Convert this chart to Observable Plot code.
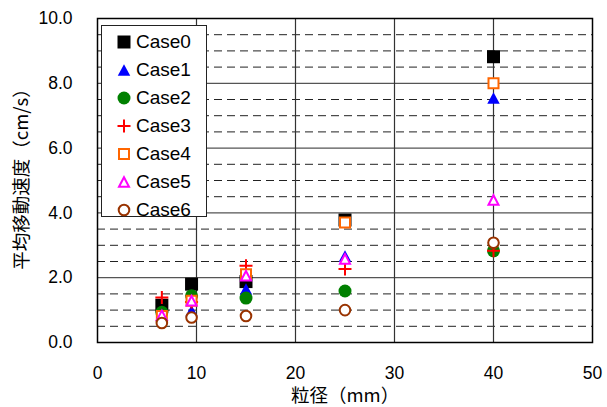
<!DOCTYPE html>
<html>
<head>
<meta charset="utf-8">
<script src="https://cdn.jsdelivr.net/npm/d3@7"></script>
<script src="https://cdn.jsdelivr.net/npm/@observablehq/plot@0.6"></script>
<style>
  body { margin: 0; background: #fff; }
  #wrap { position: relative; width: 607px; height: 407px; }
  #legend { position: absolute; left: 101px; top: 25px; width: 106px; height: 192px; box-sizing: border-box;
            border: 1px solid #222; background: #fff; font-family: 'Liberation Sans', Arial, sans-serif; font-size: 19px; color: #000; }
  .row { position: absolute; left: 0; height: 20px; width: 100px; }
  .row svg { position: absolute; left: 14px; top: 2px; overflow: visible; }
  .row span { position: absolute; left: 34px; top: 0; line-height: 20px; white-space: nowrap; }
</style>
</head>
<body>
<div id="wrap"><div id="chart"></div><div id="legend"></div></div>
<script>
// ---- data ----
const diameters = [6.5, 9.5, 15, 25, 40];          // 粒径 (mm)
const caseNames = ["Case0", "Case1", "Case2", "Case3", "Case4", "Case5", "Case6"];
const case0 = [1.15, 1.80, 1.88, 3.78, 8.82];
const case1 = [0.85, 0.98, 1.65, 2.67, 7.55];
const case2 = [0.93, 1.44, 1.37, 1.59, 2.83];
const case3 = [1.39, 1.25, 2.37, 2.27, 2.83];
const case4 = [0.82, 1.29, 2.11, 3.70, 8.00];
const case5 = [0.84, 1.29, 2.06, 2.58, 4.40];
const case6 = [0.60, 0.77, 0.82, 1.00, 3.08];
const xTicks = [0, 10, 20, 30, 40, 50];
const yTicks = [0, 2, 4, 6, 8, 10];
const yMinor = [0.5, 1, 1.5, 2.5, 3, 3.5, 4.5, 5, 5.5, 6.5, 7, 7.5, 8.5, 9, 9.5];
const xTitle = "粒径（mm）";
const yTitle = "平均移動速度（cm/s）";

// ---- styles ----
function sym(kind, a, b) {
  return { draw(ctx) {
    if (kind === "square") ctx.rect(-a, -a, 2 * a, 2 * a);
    else if (kind === "triangle") { ctx.moveTo(0, -b / 2); ctx.lineTo(a / 2, b / 2); ctx.lineTo(-a / 2, b / 2); ctx.closePath(); }
    else if (kind === "circle") { ctx.moveTo(a, 0); ctx.arc(0, 0, a, 0, 2 * Math.PI); }
    else if (kind === "plus") { ctx.moveTo(-a, 0); ctx.lineTo(a, 0); ctx.moveTo(0, -a); ctx.lineTo(0, a); }
  }};
}
const styles = [
  { symbol: sym("square", 6.5),          fill: "#000000", stroke: "none",    sw: 0 },
  { symbol: sym("triangle", 12.5, 11.5), fill: "#0000FF", stroke: "none",    sw: 0 },
  { symbol: sym("circle", 6.5),          fill: "#008000", stroke: "none",    sw: 0 },
  { symbol: sym("plus", 6.5),            fill: "none",    stroke: "#FF0000", sw: 2 },
  { symbol: sym("square", 5),            fill: "#FFFFFF", stroke: "#FF6600", sw: 2 },
  { symbol: sym("triangle", 10, 9.5),    fill: "#FFFFFF", stroke: "#FF00FF", sw: 2 },
  { symbol: sym("circle", 5.3),          fill: "#FFFFFF", stroke: "#993300", sw: 2 }
];
const series = [case0, case1, case2, case3, case4, case5, case6];
const FONT = "'Liberation Sans', 'Noto Sans CJK JP', Arial, sans-serif";

const dotMarks = caseNames.map((name, i) => {
  const rows = series[i].map((v, j) => ({ name, d: diameters[j], v }));
  const s = styles[i];
  return Plot.dot(rows, { x: "d", y: "v", symbol: s.symbol, r: 6, fill: s.fill, stroke: s.stroke, strokeWidth: s.sw });
});

const chart = Plot.plot({
  width: 607, height: 407,
  marginLeft: 97, marginRight: 15, marginTop: 18, marginBottom: 65,
  x: { domain: [0, 50] },
  y: { domain: [0, 10] },
  style: { fontFamily: FONT, fontSize: "17px", color: "#000", background: "#fff", overflow: "visible" },
  marks: [
    Plot.ruleY(yMinor, { stroke: "#222", strokeWidth: 1, strokeDasharray: "8,5" }),
    Plot.ruleY(yTicks.filter(t => t > 0 && t < 10), { stroke: "#555", strokeWidth: 1.3 }),
    Plot.ruleX(xTicks.filter(t => t > 0 && t < 50), { stroke: "#333", strokeWidth: 1.2 }),
    Plot.frame({ stroke: "#000", strokeWidth: 1.5 }),
    Plot.axisX({ ticks: xTicks, tickSize: 0, tickPadding: 24, label: null, fontSize: 17.5 }),
    Plot.axisY({ ticks: yTicks, tickSize: 0, tickPadding: 25, tickFormat: d3.format(".1f"), label: null, fontSize: 17.5 }),
    ...dotMarks,
    Plot.text([xTitle], { text: d => d, frameAnchor: "bottom", dy: 54, textAnchor: "middle", lineAnchor: "middle", fontSize: 18.5, fontFamily: "'Noto Sans CJK JP', sans-serif" }),
    Plot.text([yTitle], { text: d => d, frameAnchor: "left", dx: -75, dy: -6, rotate: -90, textAnchor: "middle", lineAnchor: "middle", fontSize: 18.5, fontFamily: "'Noto Sans CJK JP', sans-serif" })
  ]
});
document.getElementById("chart").appendChild(chart);

// ---- legend ----
const legend = document.getElementById("legend");
caseNames.forEach((name, i) => {
  const s = styles[i];
  const p = d3.path(); s.symbol.draw(p);
  const row = document.createElement("div");
  row.className = "row";
  row.style.top = (15.7 + i * 28.1 - 10) + "px";
  row.innerHTML = `<svg width="16" height="16" viewBox="-8 -8 16 16"><path d="${p.toString()}" fill="${s.fill}" stroke="${s.stroke}" stroke-width="${s.sw}"/></svg><span>${name}</span>`;
  legend.appendChild(row);
});
</script>
</body>
</html>
